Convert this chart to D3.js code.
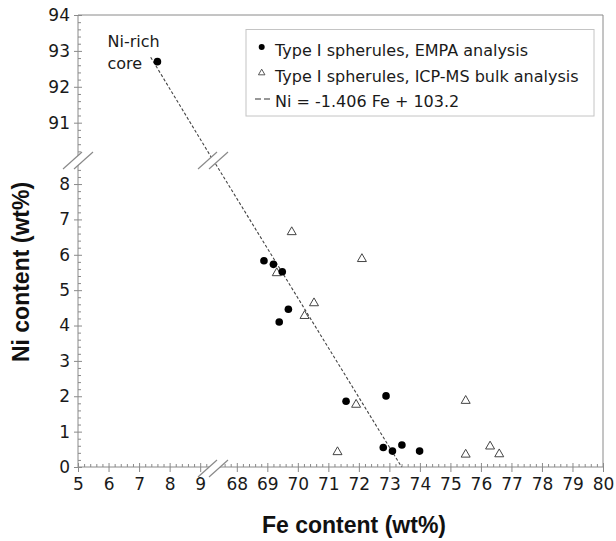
<!DOCTYPE html>
<html><head><meta charset="utf-8">
<script src="https://cdn.jsdelivr.net/npm/d3@7"></script>
<style>
html,body{margin:0;padding:0;background:#fff;}
svg{display:block;}
.tk text{font-family:"DejaVu Sans",Verdana,sans-serif;font-size:17px;fill:#1a1a1a;}
.tk line{stroke:#8a8a8a;stroke-width:1;}
</style></head>
<body>
<svg id="c" width="616" height="541"></svg>
<script>
// ---- data ----
const empaFe = [68.89, 69.20, 69.49, 69.69, 69.39, 71.58, 72.89, 72.80, 73.10, 73.41, 73.99];
const empaNi = [5.83, 5.73, 5.52, 4.46, 4.10, 1.86, 2.01, 0.55, 0.45, 0.62, 0.45];
const icpFe = [69.80, 72.10, 69.31, 70.53, 70.22, 71.91, 75.50, 71.30, 75.50, 76.30, 76.60];
const icpNi = [6.68, 5.92, 5.52, 4.67, 4.31, 1.80, 1.91, 0.46, 0.39, 0.62, 0.40];
const coreFe = [7.6];
const coreNi = [92.7];
const fitSlope = -1.406, fitIntercept = 103.2;
const fitFeStart = 7.38;
const xTicksLeft = [5, 6, 7, 8, 9];
const xTicksRight = [68, 69, 70, 71, 72, 73, 74, 75, 76, 77, 78, 79, 80];
const yTicksBottom = [0, 1, 2, 3, 4, 5, 6, 7, 8];
const yTicksTop = [91, 92, 93, 94];
const legendLabels = ["Type I spherules, EMPA analysis", "Type I spherules, ICP-MS bulk analysis", "Ni = -1.406 Fe + 103.2"];
const xTitle = "Fe content (wt%)", yTitle = "Ni content (wt%)";

// ---- layout ----
const L = 78, R = 603, T = 15, B = 467, BX = 213, BY = 160;
const feBreakLo = 9.42, feBreakHi = 67.22;
const niBreakLo = 8.68, niBreakHi = 89.96;
const xL = d3.scaleLinear().domain([5, feBreakLo]).range([L, BX]);
const xR = d3.scaleLinear().domain([feBreakHi, 80]).range([BX, R]);
const yB = d3.scaleLinear().domain([0, niBreakLo]).range([B, BY]);
const yT = d3.scaleLinear().domain([niBreakHi, 94]).range([BY, T]);
const X = v => v < 40 ? xL(v) : xR(v);
const Y = v => v < 50 ? yB(v) : yT(v);

const svg = d3.select("#c");
const axisColor = "#8a8a8a";

// frame
svg.append("path").attr("d", `M${L},${T}H${R}V${B}H${L}Z`).attr("fill", "none").attr("stroke", axisColor).attr("stroke-width", 1);

function minors(a, b, step) {
  const out = [];
  for (let v = a; v <= b + 1e-9; v += step) {
    const r = Math.round(v * 10) / 10;
    if (Math.abs(r - Math.round(r)) < 1e-6) continue;
    out.push(r);
  }
  return out;
}

// x axes
function xAxis(scale, majors, mins) {
  const g = svg.append("g").attr("class", "tk").attr("transform", `translate(0,${B})`);
  g.call(d3.axisBottom(scale).tickValues(majors).tickSize(5).tickPadding(6).tickFormat(d3.format("d")));
  g.select(".domain").remove();
  const g2 = svg.append("g").attr("class", "tk").attr("transform", `translate(0,${B})`);
  g2.call(d3.axisTop(scale).tickValues(majors).tickSize(4).tickFormat(""));
  g2.select(".domain").remove();
  const g3 = svg.append("g").attr("class", "tk").attr("transform", `translate(0,${B})`);
  g3.call(d3.axisTop(scale).tickValues(mins).tickSize(3).tickFormat(""));
  g3.select(".domain").remove();
}
xAxis(xL, xTicksLeft, minors(5, 9.2, 0.2));
xAxis(xR, xTicksRight, minors(67.4, 80, 0.2));

function yAxis(scale, majors, mins) {
  const g = svg.append("g").attr("class", "tk").attr("transform", `translate(${L},0)`);
  g.call(d3.axisLeft(scale).tickValues(majors).tickSize(4).tickPadding(4).tickFormat(d3.format("d")));
  g.select(".domain").remove();
  const g2 = svg.append("g").attr("class", "tk").attr("transform", `translate(${L},0)`);
  g2.call(d3.axisRight(scale).tickValues(majors).tickSize(4).tickFormat(""));
  g2.select(".domain").remove();
  const g3 = svg.append("g").attr("class", "tk").attr("transform", `translate(${L},0)`);
  g3.call(d3.axisRight(scale).tickValues(mins).tickSize(3).tickFormat(""));
  g3.select(".domain").remove();
}
yAxis(yB, yTicksBottom, minors(0, 8.6, 0.2));
yAxis(yT, yTicksTop, minors(90.2, 94, 0.2));

// regression line (two segments across the breaks)
const fitLine = d3.line().x(d => X(d)).y(d => Y(fitSlope * d + fitIntercept));
const feZero = -fitIntercept / fitSlope;
svg.append("path").attr("d", fitLine([fitFeStart, feBreakLo]))
  .attr("fill", "none").attr("stroke", "#444").attr("stroke-width", 1.1).attr("stroke-dasharray", "3,2");
svg.append("path").attr("d", fitLine([feBreakHi, feZero]))
  .attr("fill", "none").attr("stroke", "#444").attr("stroke-width", 1.1).attr("stroke-dasharray", "3,2");

// break marks
function breakMark(cx, cy) {
  const g = svg.append("g");
  g.append("path").attr("d", `M${cx - 15},${cy + 9}L${cx + 4},${cy - 8}L${cx + 15},${cy - 8}L${cx - 4},${cy + 9}Z`).attr("fill", "#fff");
  g.append("line").attr("x1", cx - 15).attr("y1", cy + 9).attr("x2", cx + 4).attr("y2", cy - 8).attr("stroke", axisColor).attr("stroke-width", 1.2);
  g.append("line").attr("x1", cx - 4).attr("y1", cy + 9).attr("x2", cx + 15).attr("y2", cy - 8).attr("stroke", axisColor).attr("stroke-width", 1.2);
}
breakMark(BX, B + 1);
breakMark(L, BY);
breakMark(BX, BY);

// triangles
function tri(s) { const h = s * 0.87; return `M0,${-h / 2}L${s / 2},${h / 2}L${-s / 2},${h / 2}Z`; }

svg.append("g").selectAll("path").data(icpFe).join("path")
  .attr("d", tri(9)).attr("transform", (d, i) => `translate(${X(d)},${Y(icpNi[i])})`)
  .attr("fill", "#fff").attr("stroke", "#444").attr("stroke-width", 1);

svg.append("g").selectAll("circle").data(empaFe).join("circle")
  .attr("cx", d => X(d)).attr("cy", (d, i) => Y(empaNi[i])).attr("r", 3.8).attr("fill", "#000");

svg.append("g").selectAll("circle").data(coreFe).join("circle")
  .attr("cx", d => X(d)).attr("cy", (d, i) => Y(coreNi[i])).attr("r", 3.8).attr("fill", "#000");

// core annotation
const ann = svg.append("text").attr("font-family", "'DejaVu Sans',Verdana,sans-serif").attr("font-size", 16).attr("fill", "#1a1a1a");
ann.append("tspan").attr("x", 107.5).attr("y", 46.5).text("Ni-rich");
ann.append("tspan").attr("x", 107.5).attr("y", 68.5).text("core");

// legend
const lg = svg.append("g");
lg.append("rect").attr("x", 246).attr("y", 29.5).attr("width", 348).attr("height", 86.5).attr("fill", "#fff").attr("stroke", "#c4c4c4").attr("stroke-width", 1);
const baselines = [55.7, 81.7, 107];
lg.selectAll("text").data(legendLabels).join("text")
  .attr("x", 275).attr("y", (d, i) => baselines[i])
  .attr("font-family", "'DejaVu Sans',Verdana,sans-serif").attr("font-size", 16).attr("fill", "#1a1a1a").text(d => d);
lg.append("circle").attr("cx", 261.7).attr("cy", 47).attr("r", 3).attr("fill", "#000");
lg.append("path").attr("d", tri(6.5)).attr("transform", "translate(261.7,72)").attr("fill", "#fff").attr("stroke", "#444").attr("stroke-width", 0.9);
lg.append("line").attr("x1", 255).attr("x2", 270).attr("y1", 99).attr("y2", 99).attr("stroke", "#333").attr("stroke-width", 1.2).attr("stroke-dasharray", "6,3");

// titles
svg.append("text").attr("x", 354).attr("y", 533).attr("text-anchor", "middle")
  .attr("font-family", "'Liberation Sans',Arial,sans-serif").attr("font-weight", "bold").attr("font-size", 23).attr("fill", "#111").text(xTitle);
svg.append("text").attr("transform", "translate(29,272) rotate(-90)").attr("text-anchor", "middle")
  .attr("font-family", "'Liberation Sans',Arial,sans-serif").attr("font-weight", "bold").attr("font-size", 23).attr("fill", "#111").text(yTitle);
</script>
</body></html>
